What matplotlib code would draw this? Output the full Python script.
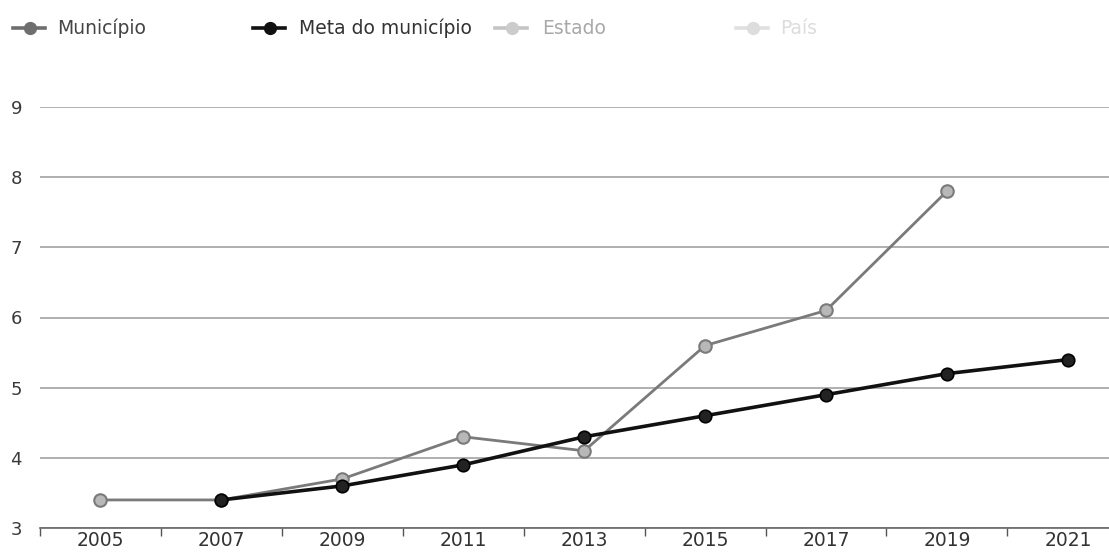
import matplotlib
matplotlib.use("Agg")
import matplotlib.pyplot as plt
from matplotlib.lines import Line2D

years = ["2005", "2007", "2009", "2011", "2013", "2015", "2017", "2019", "2021"]
municipio = [3.4, 3.4, 3.7, 4.3, 4.1, 5.6, 6.1, 7.8, None]
meta = [None, 3.4, 3.6, 3.9, 4.3, 4.6, 4.9, 5.2, 5.4]
y_ticks = [3, 4, 5, 6, 7, 8, 9]

plt.rcParams['font.family'] = ['DejaVu Sans']

fig = plt.figure(figsize=(11.09, 5.53), dpi=100)
ax = fig.add_axes([40/1109, 1 - 528/553, 1 - 40/1109, (528 - 107)/553])

xm = [i for i, v in enumerate(municipio) if v is not None]
ym = [v for v in municipio if v is not None]
xt = [i for i, v in enumerate(meta) if v is not None]
yt = [v for v in meta if v is not None]

ax.plot(xm, ym, color="#7a7a7a", lw=2, marker="o", ms=9,
        mfc="#b8b8b8", mec="#7a7a7a", mew=1.5, zorder=3)
ax.plot(xt, yt, color="#111111", lw=2.6, marker="o", ms=9,
        mfc="#222222", mec="#000000", mew=1.2, zorder=4)

ax.set_ylim(3, 9)
ax.set_xlim(-0.496, 8.34)
ax.set_yticks(y_ticks)
ax.set_yticklabels([str(v) for v in y_ticks], fontsize=13, color="#3a3a3a")
ax.tick_params(axis="y", length=0, pad=13)
ax.yaxis.grid(True, color="#9a9a9a", lw=1.1)
ax.set_axisbelow(True)

ax.set_xticks(range(len(years)))
ax.set_xticklabels(years, fontsize=13.5, color="#333333")
ax.tick_params(axis="x", which="major", length=0, pad=2.5)
ax.set_xticks([i - 0.5 for i in range(len(years))], minor=True)
ax.tick_params(axis="x", which="minor", length=6, color="#555555", width=1)

for s in ["top", "right", "left"]:
    ax.spines[s].set_visible(False)
ax.spines["bottom"].set_color("#666666")
ax.spines["bottom"].set_linewidth(1.2)

# legend drawn manually in figure coordinates
legend_items = [
    ("Município", "#6e6e6e", "#6e6e6e", "#444444", 30, 57),
    ("Meta do município", "#111111", "#111111", "#333333", 270, 299),
    ("Estado", "#c4c4c4", "#cccccc", "#a8a8a8", 512, 542),
    ("País", "#e0e0e0", "#dddddd", "#dcdcdc", 753, 780),
]
ly = 1 - 28/553
for label, lc, mc, tc, mx, tx in legend_items:
    fig.add_artist(Line2D([(mx - 17)/1109, (mx + 15)/1109], [ly, ly],
                          color=lc, lw=2.6, transform=fig.transFigure))
    fig.add_artist(Line2D([mx/1109], [ly], marker="o", ms=8.5, color=mc,
                          transform=fig.transFigure))
    fig.text(tx/1109, ly, label, fontsize=13.5, color=tc, va="center", ha="left")

fig.savefig("out.png", dpi=100, facecolor="white")
